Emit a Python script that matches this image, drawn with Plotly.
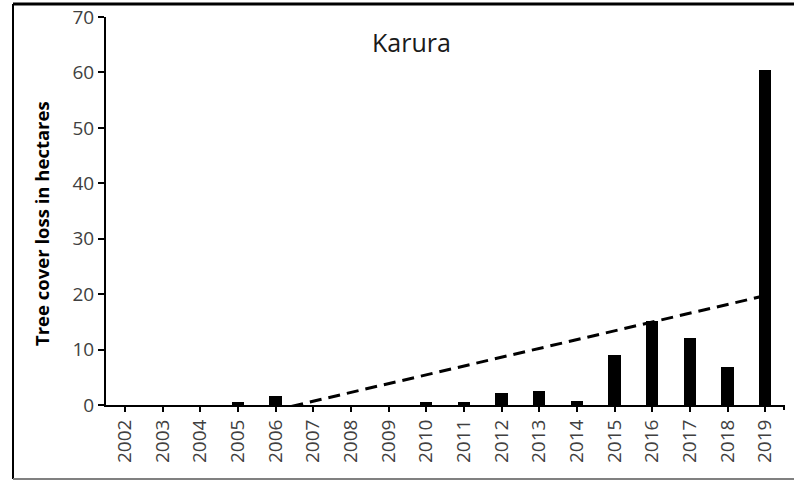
import numpy as np
import plotly.graph_objects as go

years = [str(y) for y in range(2002, 2020)]
loss_ha = [0, 0, 0, 0.5, 1.7, 0, 0, 0, 0.5, 0.5, 2.2, 2.5, 0.7, 9.1, 15.1, 12.1, 6.9, 60.4]
y_ticks = [0, 10, 20, 30, 40, 50, 60, 70]

# linear trendline (Excel-style) computed from the data
xi = np.arange(1, len(loss_ha) + 1)
slope, intercept = np.polyfit(xi, loss_ha, 1)
trend = slope * xi + intercept

FONT = "Open Sans"
TICKC = "#404040"

L, R, T, B = 106, 10, 17, 75
W, H = 794, 480
PW, PH = W - L - R, H - T - B

def px_x(x):
    return (x - L) / PW

def px_y(y):
    return (H - B - y) / PH

fig = go.Figure()
fig.add_trace(go.Bar(x=years, y=loss_ha, width=0.32, marker=dict(color="black", line=dict(width=0)),
                     showlegend=False))
fig.add_trace(go.Scatter(x=years, y=trend, mode="lines", line=dict(color="black", width=3, dash="12px,7px"),
                         showlegend=False, cliponaxis=True))

fig.update_layout(
    width=W, height=H,
    margin=dict(l=L, r=R, t=T, b=B, autoexpand=False),
    paper_bgcolor="white", plot_bgcolor="white",
    font=dict(family=FONT, color=TICKC),
    bargap=0,
    xaxis=dict(type="category", range=[-0.5, 17.5], showline=True, linecolor="black", linewidth=2,
               ticks="outside", ticklen=5, tickwidth=2, tickcolor="black", tickangle=-90,
               tickfont=dict(size=19, color=TICKC, family=FONT), showgrid=False, zeroline=False,
               automargin=False),
    yaxis=dict(range=[0, 70], tickvals=y_ticks, showline=True, linecolor="black", linewidth=2,
               ticks="outside", ticklen=6, tickwidth=2, tickcolor="black",
               tickfont=dict(size=19, color=TICKC, family=FONT), showgrid=False, zeroline=False,
               automargin=False),
    annotations=[
        dict(text="Karura", x=px_x(411), y=px_y(42), xref="paper", yref="paper", showarrow=False,
             xanchor="center", yanchor="middle",
             font=dict(size=25, color="#1a1a1a", family=FONT)),
        dict(text="<b>Tree cover loss in hectares</b>", x=px_x(41), y=px_y(224),
             xref="paper", yref="paper", showarrow=False, textangle=-90,
             xanchor="center", yanchor="middle",
             font=dict(size=18.5, color="black", family=FONT)),
    ],
)

shapes = [
    # outer frame
    dict(type="line", xref="paper", yref="paper", x0=px_x(13), x1=px_x(800), y0=px_y(4), y1=px_y(4),
         line=dict(color="black", width=3)),
    dict(type="line", xref="paper", yref="paper", x0=px_x(13), x1=px_x(13), y0=px_y(4), y1=px_y(479),
         line=dict(color="black", width=2)),
    dict(type="line", xref="paper", yref="paper", x0=px_x(13), x1=px_x(800), y0=px_y(479), y1=px_y(479),
         line=dict(color="#808080", width=2)),
    # end tick on x axis
    dict(type="line", xref="paper", yref="paper", x0=1, x1=1, y0=0, y1=px_y(410),
         line=dict(color="black", width=2)),
]
fig.update_layout(shapes=shapes)

fig.write_html("out.html", config={"displayModeBar": False},
               post_script="document.body.style.margin='0px';")
